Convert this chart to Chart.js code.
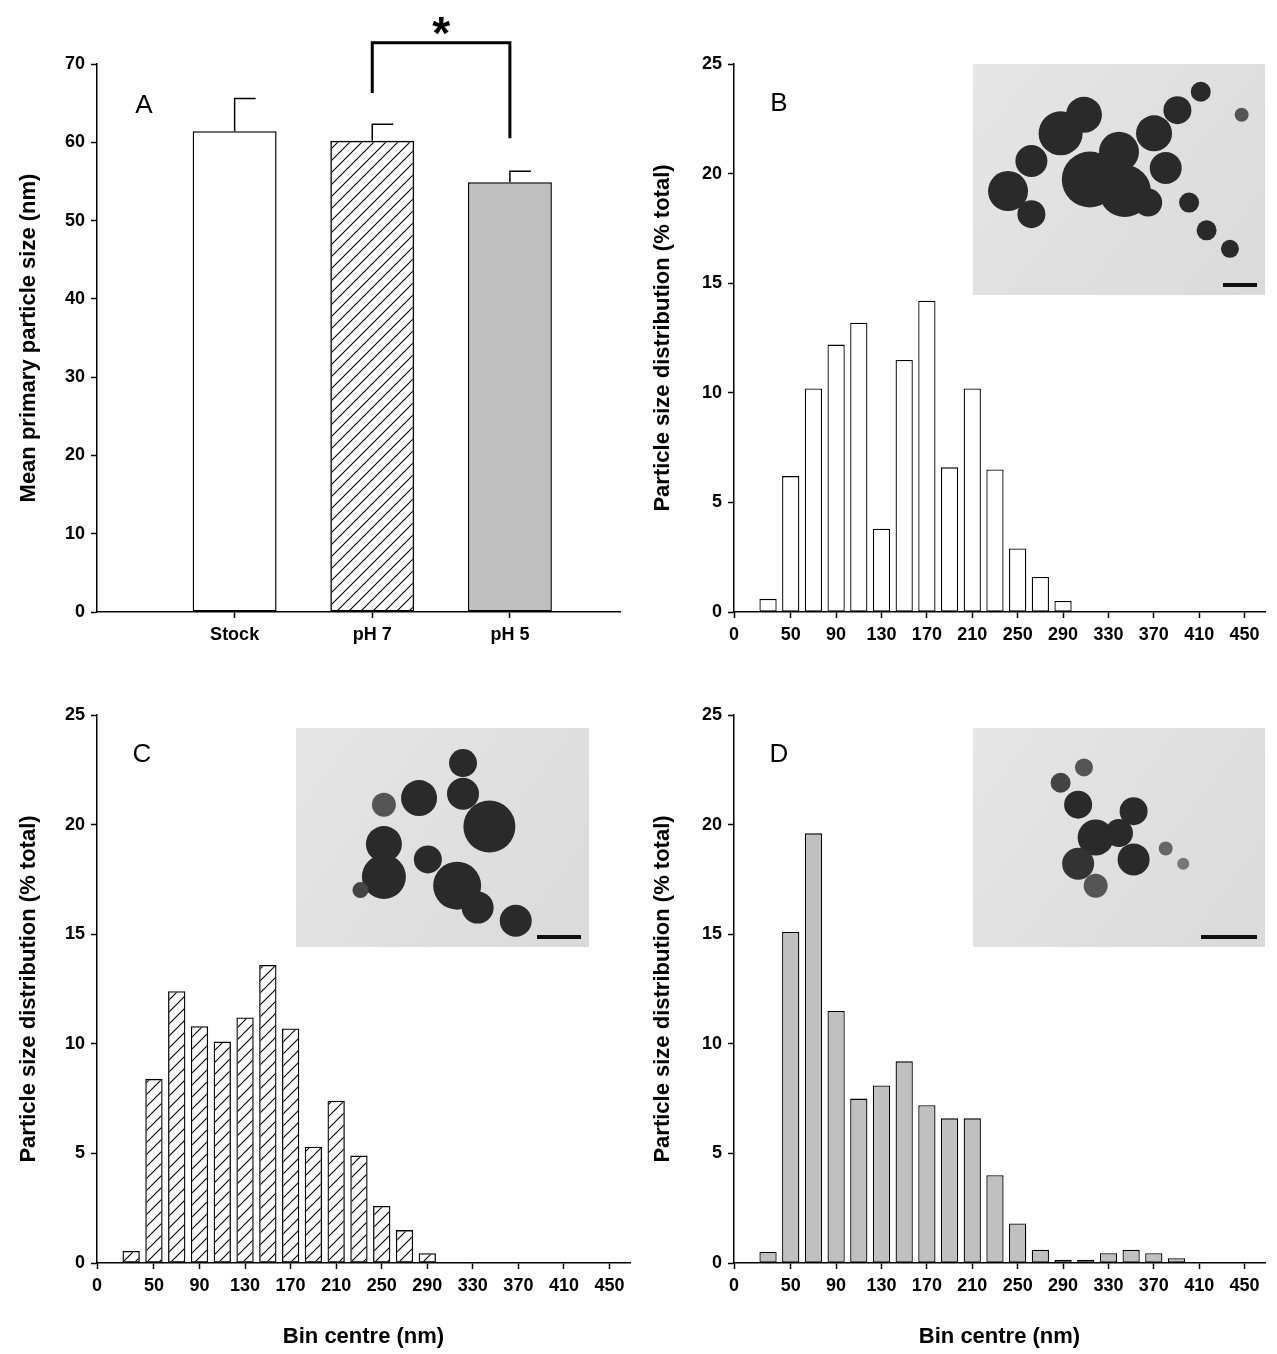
<!DOCTYPE html>
<html>
<head>
<meta charset="utf-8">
<script src="https://cdn.jsdelivr.net/npm/chart.js@4"></script>
<style>
  body { margin: 0; background: #fff; }
  .panel { position: absolute; }
</style>
</head>
<body>
<div class="panel" style="left:0;top:0;width:640px;height:677px"><canvas id="chartA"></canvas></div>
<div class="panel" style="left:640px;top:0;width:637px;height:677px"><canvas id="chartB"></canvas></div>
<div class="panel" style="left:0;top:677px;width:640px;height:677px"><canvas id="chartC"></canvas></div>
<div class="panel" style="left:640px;top:677px;width:637px;height:677px"><canvas id="chartD"></canvas></div>
<script>
// --- data ---
const groupLabels = ['Stock', 'pH 7', 'pH 5'];
const meanSize = [61.4, 60.2, 54.9];
const meanErr = [4.2, 2.1, 1.4];

const binCentres = [30, 50, 70, 90, 110, 130, 150, 170, 190, 210, 230, 250, 270, 290, 310, 330, 350, 370, 390, 410];
const distStock = [0.6, 6.2, 10.2, 12.2, 13.2, 3.8, 11.5, 14.2, 6.6, 10.2, 6.5, 2.9, 1.6, 0.5, 0.05, 0, 0, 0, 0, 0];
const distPH7 = [0.55, 8.4, 12.4, 10.8, 10.1, 11.2, 13.6, 10.7, 5.3, 7.4, 4.9, 2.6, 1.5, 0.45, 0.05, 0, 0, 0, 0, 0];
const distPH5 = [0.5, 15.1, 19.6, 11.5, 7.5, 8.1, 9.2, 7.2, 6.6, 6.6, 4.0, 1.8, 0.6, 0.15, 0.15, 0.45, 0.6, 0.45, 0.22, 0.05];

const binTicks = [0, 50, 90, 130, 170, 210, 250, 290, 330, 370, 410, 450];
const pctTicks = [0, 5, 10, 15, 20, 25];
const sizeTicks = [0, 10, 20, 30, 40, 50, 60, 70];

const FONT = 'Liberation Sans, Arial, sans-serif';
const GREY = '#c0c0c0';

function hatch() {
  const c = document.createElement('canvas');
  c.width = 12; c.height = 12;
  const g = c.getContext('2d');
  g.strokeStyle = '#000'; g.lineWidth = 1.1;
  g.beginPath();
  g.moveTo(0, 12); g.lineTo(12, 0);
  g.moveTo(-6, 6); g.lineTo(6, -6);
  g.moveTo(6, 18); g.lineTo(18, 6);
  g.stroke();
  return g.createPattern(c, 'repeat');
}

function axisStyle(ticks, min, max) {
  return {
    type: 'linear', min, max, offset: false,
    afterBuildTicks: s => { s.ticks = ticks.map(v => ({ value: v })); },
    grid: { drawOnChartArea: false, offset: false, color: '#000', tickLength: 6, tickWidth: 1.5 },
    border: { color: '#000', width: 1.5 },
    ticks: { color: '#000', font: { family: FONT, size: 18, weight: 'bold' }, padding: 6, autoSkip: false, maxRotation: 0 }
  };
}

function axisTitle(text) {
  return { display: true, text, color: '#000', font: { family: FONT, size: 22, weight: 'bold' } };
}

const letterPlugin = {
  id: 'letter',
  afterDraw(chart, args, opts) {
    const ctx = chart.ctx;
    ctx.save();
    ctx.fillStyle = '#000';
    ctx.font = '26px ' + FONT;
    ctx.textAlign = 'center';
    ctx.textBaseline = 'middle';
    ctx.fillText(opts.text, chart.chartArea.left + opts.dx, chart.chartArea.top + opts.dy);
    ctx.restore();
  }
};

// micrograph insets: grey photo box with dark particle clusters and a scale bar
const insetPlugin = {
  id: 'inset',
  afterDraw(chart, args, opts) {
    if (!opts.box) return;
    const ctx = chart.ctx;
    const [x, y, w, h] = opts.box;
    ctx.save();
    const grd = ctx.createLinearGradient(x, y, x + w, y + h);
    grd.addColorStop(0, '#e6e6e6'); grd.addColorStop(1, '#dadada');
    ctx.fillStyle = grd;
    ctx.fillRect(x, y, w, h);
    opts.blobs.forEach(b => {
      ctx.fillStyle = b[3] || '#2a2a2a';
      ctx.beginPath();
      ctx.arc(x + b[0] * w, y + b[1] * h, b[2], 0, Math.PI * 2);
      ctx.fill();
    });
    ctx.fillStyle = '#111';
    ctx.fillRect(x + w - opts.bar - 8, y + h - 12, opts.bar, 4);
    ctx.restore();
  }
};

const errPlugin = {
  id: 'errbars',
  afterDatasetsDraw(chart) {
    const ctx = chart.ctx, xs = chart.scales.x, ys = chart.scales.y;
    ctx.save();
    ctx.strokeStyle = '#000'; ctx.lineWidth = 1.5;
    meanSize.forEach((v, i) => {
      const px = xs.getPixelForValue(i + 1);
      ctx.beginPath();
      ctx.moveTo(px, ys.getPixelForValue(v));
      ctx.lineTo(px, ys.getPixelForValue(v + meanErr[i]));
      ctx.lineTo(px + 21, ys.getPixelForValue(v + meanErr[i]));
      ctx.stroke();
    });
    // significance bracket pH 7 vs pH 5
    const x1 = xs.getPixelForValue(2), x2 = xs.getPixelForValue(3);
    ctx.lineWidth = 3;
    ctx.beginPath();
    ctx.moveTo(x1, ys.getPixelForValue(66.3));
    ctx.lineTo(x1, ys.getPixelForValue(72.7));
    ctx.lineTo(x2, ys.getPixelForValue(72.7));
    ctx.lineTo(x2, ys.getPixelForValue(60.5));
    ctx.stroke();
    ctx.fillStyle = '#000';
    ctx.font = 'bold 46px ' + FONT;
    ctx.textAlign = 'center';
    ctx.textBaseline = 'middle';
    ctx.fillText('*', (x1 + x2) / 2, ys.getPixelForValue(73.5));
    ctx.restore();
  }
};

function fixSize(w, h) {
  return s => { if (w != null) s.width = w; if (h != null) s.height = h; };
}

// --- panel A ---
const xA = axisStyle([1, 2, 3], 0, 3.8);
xA.ticks.callback = v => groupLabels[v - 1];
xA.afterFit = fixSize(null, 65);
const yA = axisStyle(sizeTicks, 0, 70);
yA.title = axisTitle('Mean primary particle size (nm)');
yA.afterFit = fixSize(85, null);

new Chart(document.getElementById('chartA'), {
  type: 'bar',
  data: {
    datasets: [{
      data: meanSize.map((v, i) => ({ x: i + 1, y: v })),
      backgroundColor: ['#fff', hatch(), GREY],
      borderColor: '#000', borderWidth: 1.5, borderSkipped: false,
      barPercentage: 0.61, categoryPercentage: 1
    }]
  },
  options: {
    responsive: true, maintainAspectRatio: false, animation: false,
    layout: { padding: { top: 64, right: 20, left: 12, bottom: 0 } },
    plugins: { legend: { display: false }, tooltip: { enabled: false }, letter: { text: 'A', dx: 47, dy: 42 } },
    scales: { x: xA, y: yA }
  },
  plugins: [letterPlugin, errPlugin]
});

// --- histograms ---
function histogram(id, values, fill, letter, inset, padTop, padRight, padLeft, yWidth, xHeight, showXTitle) {
  const x = axisStyle(binTicks, 0, 468);
  x.afterFit = fixSize(null, xHeight);
  if (showXTitle) x.title = axisTitle('Bin centre (nm)');
  const y = axisStyle(pctTicks, 0, 25);
  y.title = axisTitle('Particle size distribution (% total)');
  y.afterFit = fixSize(yWidth, null);
  new Chart(document.getElementById(id), {
    type: 'bar',
    data: {
      datasets: [{
        data: binCentres.map((c, i) => ({ x: c, y: values[i] })),
        backgroundColor: fill, borderColor: '#000', borderWidth: 1.3, borderSkipped: false,
        barPercentage: 0.76, categoryPercentage: 1
      }]
    },
    options: {
      responsive: true, maintainAspectRatio: false, animation: false,
      layout: { padding: { top: padTop, right: padRight, left: padLeft, bottom: 0 } },
      plugins: { legend: { display: false }, tooltip: { enabled: false }, letter: { text: letter, dx: 45, dy: 40 }, inset },
      scales: { x, y }
    },
    plugins: [letterPlugin, insetPlugin]
  });
}

histogram('chartB', distStock, '#fff', 'B', {
  box: [333, 64, 292, 231], bar: 34,
  blobs: [[0.12, 0.55, 20], [0.2, 0.42, 16], [0.3, 0.3, 22], [0.38, 0.22, 18], [0.4, 0.5, 28], [0.52, 0.55, 26],
          [0.5, 0.38, 20], [0.62, 0.3, 18], [0.7, 0.2, 14], [0.78, 0.12, 10], [0.66, 0.45, 16], [0.6, 0.6, 14],
          [0.2, 0.65, 14], [0.74, 0.6, 10], [0.8, 0.72, 10], [0.88, 0.8, 9], [0.92, 0.22, 7, '#555']]
}, 64, 12, 6, 88, 65, false);

histogram('chartC', distPH7, hatch(), 'C', {
  box: [296, 51, 293, 219], bar: 44,
  blobs: [[0.57, 0.16, 14], [0.42, 0.32, 18], [0.57, 0.3, 16], [0.66, 0.45, 26], [0.3, 0.35, 12, '#555'],
          [0.3, 0.53, 18], [0.3, 0.68, 22], [0.45, 0.6, 14], [0.55, 0.72, 24], [0.62, 0.82, 16], [0.75, 0.88, 16],
          [0.22, 0.74, 8, '#444']]
}, 38, 10, 12, 85, 91, true);

histogram('chartD', distPH5, GREY, 'D', {
  box: [333, 51, 292, 219], bar: 56,
  blobs: [[0.3, 0.25, 10, '#444'], [0.38, 0.18, 9, '#555'], [0.36, 0.35, 14], [0.42, 0.5, 18], [0.36, 0.62, 16, '#333'],
          [0.5, 0.48, 14], [0.55, 0.38, 14], [0.55, 0.6, 16], [0.42, 0.72, 12, '#555'], [0.66, 0.55, 7, '#666'],
          [0.72, 0.62, 6, '#777']]
}, 38, 12, 6, 88, 91, true);
</script>
</body>
</html>
